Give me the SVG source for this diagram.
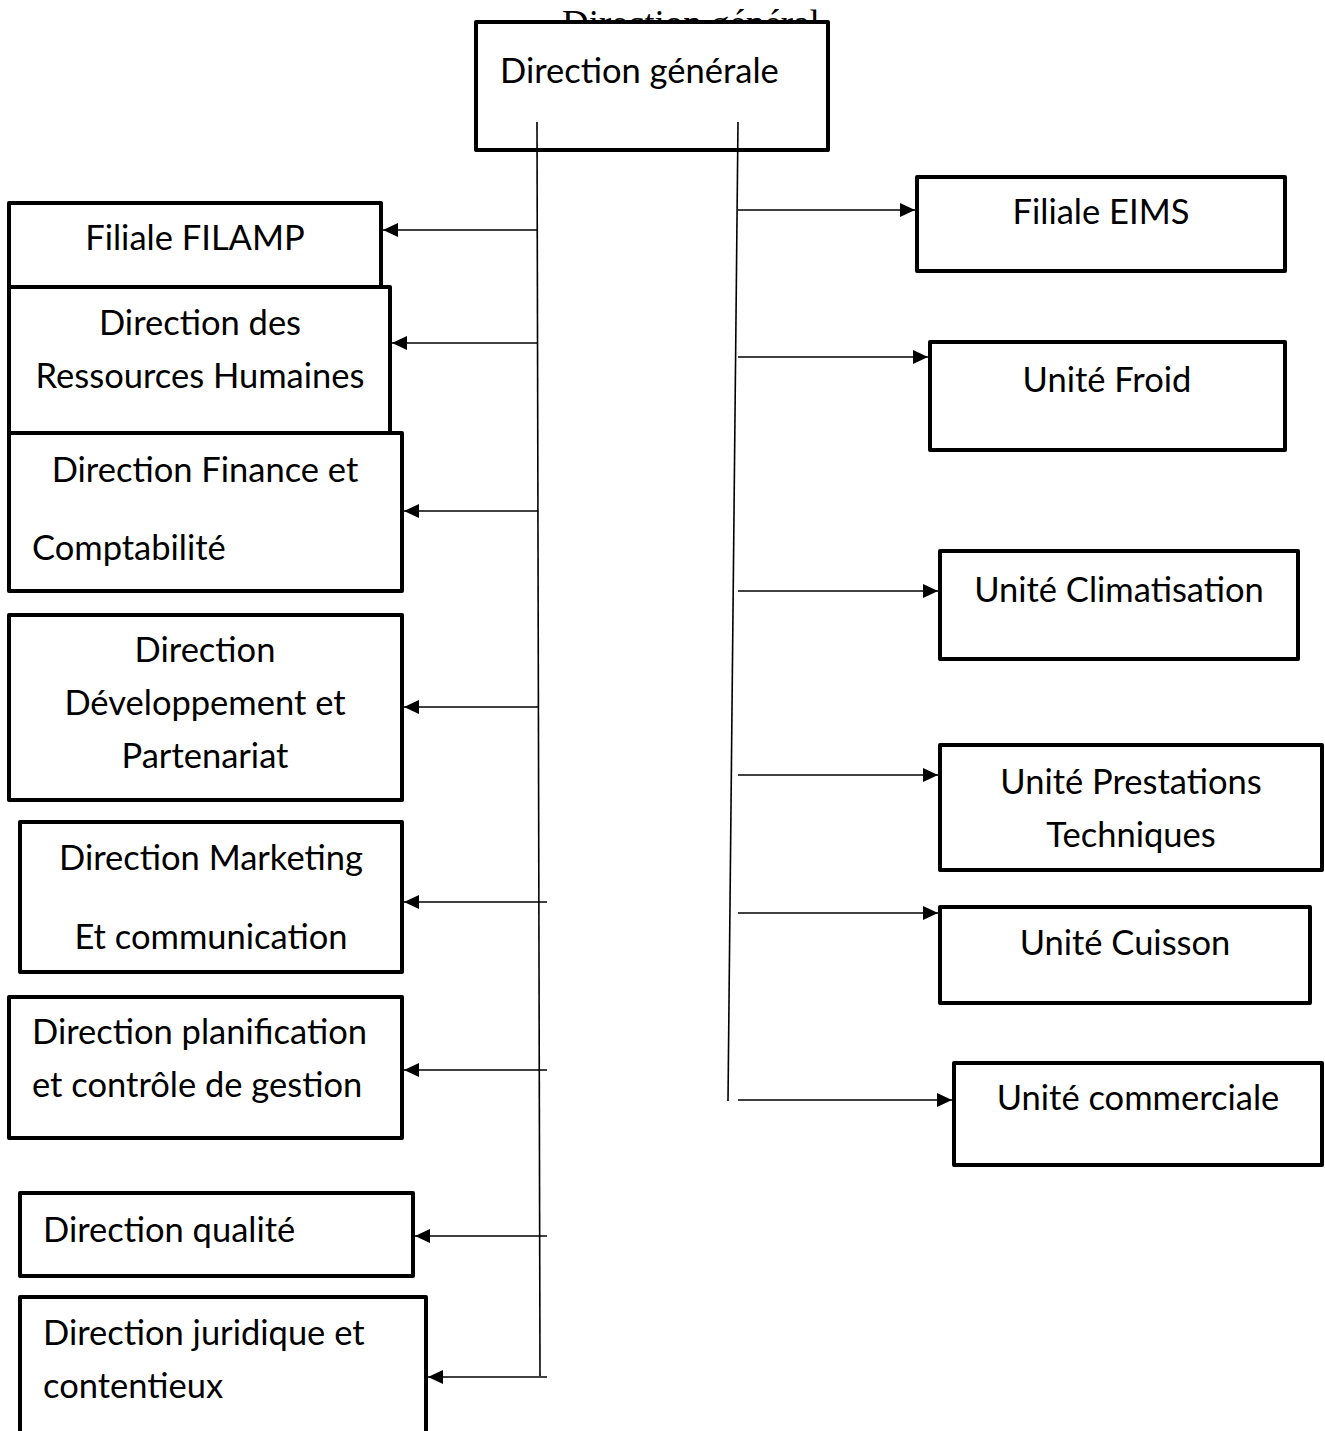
<svg xmlns="http://www.w3.org/2000/svg" width="1325" height="1431" viewBox="0 0 1325 1431">
<style>
.box{fill:#fff;stroke:#000;stroke-width:4;stroke-linejoin:round}
.t{font-family:Lato,"Liberation Sans",sans-serif;font-size:34.5px;fill:#000}
.c{text-anchor:middle}
.ln{stroke:#000;stroke-width:1.6;fill:none}
.ar{stroke:#000;stroke-width:1.6;fill:none;marker-end:url(#ah)}
</style>
<defs>
<marker id="ah" markerUnits="userSpaceOnUse" markerWidth="16" markerHeight="14" refX="15" refY="7" orient="auto">
<path d="M0,0 L15,7 L0,14 Z" fill="#000"/>
</marker>
</defs>
<rect width="1325" height="1431" fill="#fff"/>
<text x="562" y="36" font-family="'Liberation Serif',serif" font-size="37">Direction général</text>
<g id="n-dg"><rect class="box" x="476" y="22" width="352" height="128"/><text class="t" x="500" y="83">Direction générale</text></g>
<g id="connectors">
<line class="ln" x1="537" y1="122" x2="540" y2="1376"/>
<line class="ln" x1="738" y1="122" x2="728" y2="1101"/>
<line class="ar" x1="538" y1="230" x2="383" y2="230"/>
<line class="ar" x1="538" y1="343" x2="392" y2="343"/>
<line class="ar" x1="538" y1="511" x2="404" y2="511"/>
<line class="ar" x1="538" y1="707" x2="404" y2="707"/>
<line class="ar" x1="547" y1="902" x2="404" y2="902"/>
<line class="ar" x1="547" y1="1070" x2="404" y2="1070"/>
<line class="ar" x1="547" y1="1236" x2="415" y2="1236"/>
<line class="ar" x1="547" y1="1377" x2="428" y2="1377"/>
<line class="ar" x1="738" y1="210" x2="915" y2="210"/>
<line class="ar" x1="738" y1="357" x2="928" y2="357"/>
<line class="ar" x1="738" y1="591" x2="938" y2="591"/>
<line class="ar" x1="738" y1="775" x2="938" y2="775"/>
<line class="ar" x1="738" y1="913" x2="938" y2="913"/>
<line class="ar" x1="738" y1="1100" x2="952" y2="1100"/>
</g>
<g id="n-filamp"><rect class="box" x="9" y="203" width="372" height="84"/><text class="t c" x="195" y="250">Filiale FILAMP</text></g>
<g id="n-rh"><rect class="box" x="9" y="287" width="381" height="146"/><text class="t c" x="200" y="335">Direction des</text><text class="t c" x="200" y="388">Ressources Humaines</text></g>
<g id="n-fin"><rect class="box" x="9" y="433" width="393" height="158"/><text class="t c" x="205" y="482">Direction Finance et</text><text class="t" x="32" y="560">Comptabilité</text></g>
<g id="n-dev"><rect class="box" x="9" y="615" width="393" height="185"/><text class="t c" x="205" y="662">Direction</text><text class="t c" x="205" y="715">Développement et</text><text class="t c" x="205" y="768">Partenariat</text></g>
<g id="n-mkt"><rect class="box" x="20" y="822" width="382" height="150"/><text class="t c" x="211" y="870">Direction Marketing</text><text class="t c" x="211" y="949">Et communication</text></g>
<g id="n-plan"><rect class="box" x="9" y="997" width="393" height="141"/><text class="t" x="32" y="1044">Direction planification</text><text class="t" x="32" y="1097">et contrôle de gestion</text></g>
<g id="n-qual"><rect class="box" x="20" y="1193" width="393" height="83"/><text class="t" x="43" y="1242">Direction qualité</text></g>
<g id="n-jur"><rect class="box" x="20" y="1297" width="406" height="140"/><text class="t" x="43" y="1345">Direction juridique et</text><text class="t" x="43" y="1398">contentieux</text></g>
<g id="n-eims"><rect class="box" x="917" y="177" width="368" height="94"/><text class="t c" x="1101" y="224">Filiale EIMS</text></g>
<g id="n-froid"><rect class="box" x="930" y="342" width="355" height="108"/><text class="t c" x="1107" y="392">Unité Froid</text></g>
<g id="n-clim"><rect class="box" x="940" y="551" width="358" height="108"/><text class="t c" x="1119" y="602">Unité Climatisation</text></g>
<g id="n-prest"><rect class="box" x="940" y="745" width="382" height="125"/><text class="t c" x="1131" y="794">Unité Prestations</text><text class="t c" x="1131" y="847">Techniques</text></g>
<g id="n-cuis"><rect class="box" x="940" y="907" width="370" height="96"/><text class="t c" x="1125" y="955">Unité Cuisson</text></g>
<g id="n-com"><rect class="box" x="954" y="1063" width="368" height="102"/><text class="t c" x="1138" y="1110">Unité commerciale</text></g>
</svg>
